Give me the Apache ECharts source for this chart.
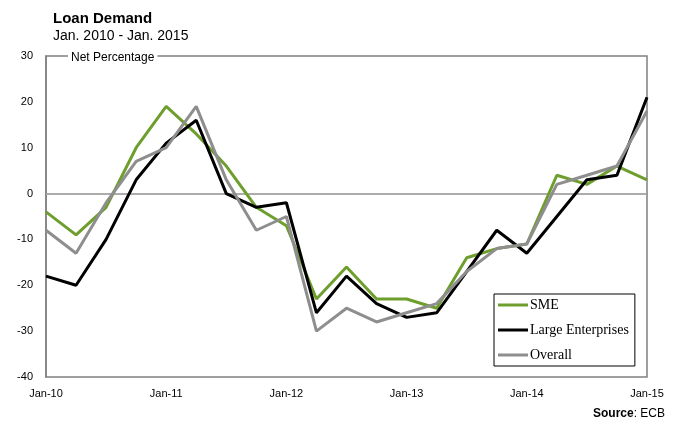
<!DOCTYPE html>
<html><head><meta charset="utf-8">
<script src="https://cdn.jsdelivr.net/npm/echarts@6/dist/echarts.min.js"></script>
<style>html,body{margin:0;padding:0;background:#fff}#c{width:675px;height:426px}</style>
</head><body><div id="c"></div>
<script>
const categories = ['Jan-10','Apr-10','Jul-10','Oct-10','Jan-11','Apr-11','Jul-11','Oct-11','Jan-12','Apr-12','Jul-12','Oct-12','Jan-13','Apr-13','Jul-13','Oct-13','Jan-14','Apr-14','Jul-14','Oct-14','Jan-15'];
const sme     = [-4,-9,-3,10,19,13,6,-3,-7,-23,-16,-23,-23,-25,-14,-12,-11,4,2,6,3];
const large   = [-18,-20,-10,3,11,16,0,-3,-2,-26,-18,-24,-27,-26,-17,-8,-13,-5,3,4,21];
const overall = [-8,-13,-2,7,10,19,3,-8,-5,-30,-25,-28,-26,-24,-17,-12,-11,2,4,6,18];
const yTicks = [-40,-30,-20,-10,0,10,20,30];

const chart = echarts.init(document.getElementById('c'));
const lineStyle = (c)=>({color:c,width:3});
chart.setOption({
  animation:false,
  textStyle:{fontFamily:'Liberation Sans, Arial, sans-serif'},
  grid:{left:46,right:28,top:56,bottom:49,show:true,borderColor:'#808080',borderWidth:1.5,containLabel:false},
  xAxis:{type:'category',data:categories,boundaryGap:false,
    axisLine:{lineStyle:{color:'#808080',width:1.5}},axisTick:{show:false},
    axisLabel:{interval:3,color:'#000',fontSize:11,margin:11,showMaxLabel:true},
    splitLine:{show:false}},
  yAxis:{type:'value',min:yTicks[0],max:yTicks[yTicks.length-1],interval:10,
    axisLine:{show:true,lineStyle:{color:'#808080',width:1.5}},axisTick:{show:false},
    axisLabel:{color:'#000',fontSize:11,margin:13},
    splitLine:{show:false}},
  legend:{show:true,orient:'vertical',left:494,top:294,itemWidth:30,itemHeight:3,itemGap:11,
    icon:'rect',padding:[4,6,4,4],borderColor:'#000',borderWidth:1,backgroundColor:'#fff',
    textStyle:{fontFamily:'Liberation Serif, Times New Roman, serif',fontSize:14,color:'#000',padding:[0,0,0,-3]},
    data:['SME','Large Enterprises','Overall']},
  series:[
    {name:'SME',type:'line',data:sme,symbol:'none',lineStyle:lineStyle('#6e9e2e'),itemStyle:{color:'#6e9e2e'},z:3,
      markLine:{silent:true,symbol:'none',label:{show:false},lineStyle:{color:'#b0b0b0',width:1.5,type:'solid'},data:[{yAxis:0}],z:1}},
    {name:'Large Enterprises',type:'line',data:large,symbol:'none',lineStyle:lineStyle('#000000'),itemStyle:{color:'#000'},z:4},
    {name:'Overall',type:'line',data:overall,symbol:'none',lineStyle:lineStyle('#8e8e8e'),itemStyle:{color:'#8e8e8e'},z:5}
  ],
  graphic:[
    {type:'text',left:53,top:11,style:{text:'Loan Demand',font:'bold 15px Liberation Sans, Arial, sans-serif',fill:'#000'}},
    {type:'text',left:53,top:29,style:{text:'Jan. 2010 - Jan. 2015',font:'14px Liberation Sans, Arial, sans-serif',fill:'#000'}},
    {type:'text',left:68,top:52,z:10,style:{text:'Net Percentage',font:'12px Liberation Sans, Arial, sans-serif',fill:'#000',backgroundColor:'#fff',padding:[0,3,0,3]}},
    {type:'text',right:10,top:408,style:{text:'{b|Source}: ECB',font:'12px Liberation Sans, Arial, sans-serif',fill:'#000',rich:{b:{fontWeight:'bold',fontSize:12,fontFamily:'Liberation Sans, Arial, sans-serif'}}}}
  ]
});
</script></body></html>
